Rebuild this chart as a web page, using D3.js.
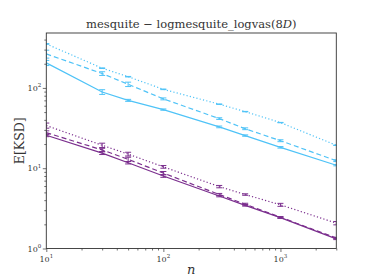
<!DOCTYPE html>
<html lang="en">
<head>
  <meta charset="UTF-8" />
  <title>mesquite KSD</title>
  <script src="https://cdn.jsdelivr.net/npm/d3@7"></script>
  <style>
    body { margin: 0; background: #fff; }
  </style>
</head>
<body>
<script>
  // sample sizes
  const ns = [10, 30, 50, 100, 300, 500, 1000, 3000];

  // light blue group
  const blueSolid = [205, 89, 70, 53.7, 32.7, 25.5, 18.2, 10.9];
  const blueSolidErr = [15, 6, 2, 1, 0.8, 0.5, 0.4, 0.2];
  const blueDashed = [265, 151, 111, 73, 41.5, 31, 22, 12.4];
  const blueDashedErr = [30, 8, 7, 2, 1, 0.8, 0.6, 0.3];
  const blueDotted = [353, 176, 138, 96, 62.7, 50.7, 37, 19.3];
  const blueDottedErr = [3, 1.5, 1, 0.8, 0.4, 0.3, 0.2, 0.1];

  // purple group
  const purpSolid = [25.7, 15.4, 11.7, 8.0, 4.5, 3.45, 2.42, 1.32];
  const purpSolidErr = [1, 0.6, 0.4, 0.3, 0.1, 0.08, 0.05, 0.03];
  const purpDashed = [27.7, 16.9, 12.9, 8.7, 4.7, 3.56, 2.45, 1.35];
  const purpDashedErr = [1.5, 0.8, 0.8, 0.4, 0.15, 0.1, 0.05, 0.03];
  const purpDotted = [34, 19.3, 15, 10.4, 5.9, 4.7, 3.5, 2.07];
  const purpDottedErr = [2.5, 1.2, 0.8, 0.4, 0.2, 0.1, 0.15, 0.1];

  const xTicks = [10, 100, 1000];
  const yTicks = [1, 10, 100];

  const series = [
    { y: blueDotted, err: blueDottedErr, color: "#4fc3f7", dash: "1.2,2.2" },
    { y: blueDashed, err: blueDashedErr, color: "#4fc3f7", dash: "5,3" },
    { y: blueSolid, err: blueSolidErr, color: "#4fc3f7", dash: null },
    { y: purpDotted, err: purpDottedErr, color: "#7b2f8e", dash: "1.2,2.2" },
    { y: purpDashed, err: purpDashedErr, color: "#7b2f8e", dash: "5,3" },
    { y: purpSolid, err: purpSolidErr, color: "#7b2f8e", dash: null }
  ];

  const FONT = "'DejaVu Serif', serif";
  const W = 374, H = 280;
  const m = { left: 46.3, right: 37.7, top: 33, bottom: 31.5 };

  const svg = d3.select("body").append("svg").attr("width", W).attr("height", H)
    .style("font-family", FONT);

  const x = d3.scaleLog().domain([10, 3000]).range([m.left, W - m.right]);
  const y = d3.scaleLog().domain([1, 483]).range([H - m.bottom, m.top]);

  const defs = svg.append("defs");
  defs.append("clipPath").attr("id", "clip").append("rect")
    .attr("x", m.left).attr("y", m.top)
    .attr("width", W - m.left - m.right).attr("height", H - m.top - m.bottom);

  const plot = svg.append("g").attr("clip-path", "url(#clip)");

  const line = d3.line().x((d, i) => x(ns[i])).y(d => y(d));

  series.forEach(s => {
    plot.append("path")
      .datum(s.y)
      .attr("d", line)
      .attr("fill", "none")
      .attr("stroke", s.color)
      .attr("stroke-width", 1.2)
      .attr("stroke-dasharray", s.dash);

    const eb = plot.append("g").attr("stroke", s.color).attr("stroke-width", 1);
    s.y.forEach((v, i) => {
      const cx = x(ns[i]);
      const y0 = y(v - s.err[i]), y1 = y(v + s.err[i]);
      eb.append("line").attr("x1", cx).attr("x2", cx).attr("y1", y0).attr("y2", y1);
      eb.append("line").attr("x1", cx - 3).attr("x2", cx + 3).attr("y1", y0).attr("y2", y0);
      eb.append("line").attr("x1", cx - 3).attr("x2", cx + 3).attr("y1", y1).attr("y2", y1);
    });
  });

  // axes (major + minor ticks, labels drawn separately)
  const xAxis = d3.axisBottom(x)
    .tickValues(d3.range(1, 4).flatMap(e => d3.range(1, 10).map(k => k * Math.pow(10, e))).filter(v => v <= 3000))
    .tickFormat("")
    .tickSizeOuter(0);
  const gx = svg.append("g").attr("transform", `translate(0,${H - m.bottom})`).call(xAxis);
  gx.selectAll(".tick line").attr("y2", d => xTicks.includes(d) ? 3.5 : 2).attr("stroke", "#333").attr("stroke-width", 0.7);
  gx.select(".domain").remove();

  const yAxis = d3.axisLeft(y)
    .tickValues(d3.range(0, 3).flatMap(e => d3.range(1, 10).map(k => k * Math.pow(10, e))).filter(v => v <= 483))
    .tickFormat("")
    .tickSizeOuter(0);
  const gy = svg.append("g").attr("transform", `translate(${m.left},0)`).call(yAxis);
  gy.selectAll(".tick line").attr("x2", d => yTicks.includes(d) ? -3.5 : -2).attr("stroke", "#333").attr("stroke-width", 0.7);
  gy.select(".domain").remove();

  // tick labels
  xTicks.forEach(v => {
    const t = svg.append("text")
      .attr("x", x(v)).attr("y", H - m.bottom + 13)
      .attr("text-anchor", "middle").attr("font-size", 8).attr("fill", "#333");
    t.append("tspan").text("10");
    t.append("tspan").attr("dy", -3.5).attr("font-size", 5.5).text(Math.round(Math.log10(v)));
  });
  yTicks.forEach(v => {
    const t = svg.append("text")
      .attr("x", m.left - 5).attr("y", y(v) + 3)
      .attr("text-anchor", "end").attr("font-size", 8).attr("fill", "#333");
    t.append("tspan").text("10");
    t.append("tspan").attr("dy", -3.5).attr("font-size", 5.5).text(Math.round(Math.log10(v)));
  });

  // frame
  svg.append("rect")
    .attr("x", m.left).attr("y", m.top)
    .attr("width", W - m.left - m.right).attr("height", H - m.top - m.bottom)
    .attr("fill", "none").attr("stroke", "#333").attr("stroke-width", 0.9);

  // title
  const title = svg.append("text")
    .attr("x", (m.left + W - m.right) / 2).attr("y", 28)
    .attr("text-anchor", "middle").attr("font-size", 11.5).attr("fill", "#333");
  title.append("tspan").text("mesquite − logmesquite_logvas(8");
  title.append("tspan").attr("font-style", "italic").text("D");
  title.append("tspan").text(")");

  // axis labels
  svg.append("text")
    .attr("x", (m.left + W - m.right) / 2).attr("y", 274)
    .attr("text-anchor", "middle").attr("font-size", 13).attr("font-style", "italic").attr("fill", "#333")
    .text("n");
  svg.append("text")
    .attr("transform", `translate(24,${(m.top + H - m.bottom) / 2}) rotate(-90)`)
    .attr("text-anchor", "middle").attr("font-size", 12.5).attr("fill", "#333")
    .text("E[KSD]");
</script>
</body>
</html>
